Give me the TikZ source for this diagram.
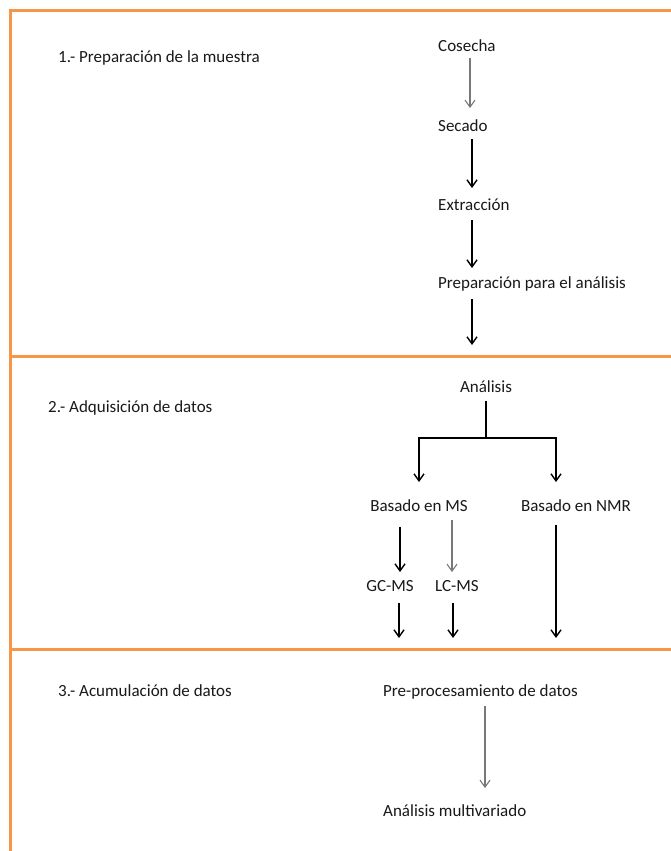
\documentclass[tikz,border=0pt]{standalone}
\usepackage{fontspec}
\setmainfont{Carlito}
\usetikzlibrary{arrows.meta,calc}
\definecolor{frameorange}{RGB}{247,150,70}
\definecolor{softgray}{RGB}{120,120,120}
\tikzset{
  frameline/.style={draw=frameorange,line width=3pt},
  lbl/.style={font=\fontsize{17}{19}\selectfont,inner sep=2pt,
              text height=12pt,text depth=3.5pt,text=black!90},
  leftlbl/.style={lbl,anchor=west},
  arr/.style={-{Straight Barb[length=7pt,width=10pt]},line width=1.4pt,black},
  garr/.style={arr,draw=softgray,line width=1.1pt},
}
\begin{document}
\begin{tikzpicture}[x=1pt,y=-1pt]
\useasboundingbox (0,0) rectangle (671,851);
\fill[white] (0,0) rectangle (671,851);

% frame and section separators
\coordinate (tl) at (10,11);
\coordinate (bl) at (10,851);
\draw[frameline] (671,11) -- (tl) -- (bl);
\draw[frameline] (10,356) -- (671,356);
\draw[frameline] (10,649) -- (671,649);

% section titles
\node[leftlbl] (t1) at (56,58) {1.- Preparación de la muestra};
\node[leftlbl] (t2) at (46,408) {2.- Adquisición de datos};
\node[leftlbl] (t3) at (56,692) {3.- Acumulación de datos};

% section 1: sample preparation
\node[leftlbl] (cos) at (436,47) {Cosecha};
\node[leftlbl] (sec) at (436,127) {Secado};
\node[leftlbl] (ext) at (436,206) {Extracción};
\node[leftlbl] (prep) at (436,284) {Preparación para el análisis};
\coordinate (colA) at (470,0);
\coordinate (colB) at (472,0);
\coordinate (c1) at (472,345);

\draw[garr,shorten <=1pt,shorten >=9pt] (cos.south -| colA) -- (sec.north -| colA);
\draw[arr,shorten <=2pt,shorten >=8pt] (sec.south -| colB) -- (ext.north -| colB);
\draw[arr,shorten <=4pt,shorten >=6pt] (ext.south -| colB) -- (prep.north -| colB);
\draw[arr,shorten <=5pt] (prep.south -| colB) -- (c1);

% section 2: data acquisition
\node[lbl] (ana) at (486,388) {Análisis};
\node[lbl] (ms) at (419,507) {Basado en MS};
\node[lbl] (nmr) at (576,507) {Basado en NMR};
\node[lbl] (gc) at (390,587) {GC-MS};
\node[lbl] (lc) at (457,587) {LC-MS};
\coordinate (split) at (486,438);
\coordinate (msline) at (419,0);
\coordinate (nmrline) at (556,0);
\coordinate (gcline) at (400,0);
\coordinate (lcline) at (452,0);
\coordinate (gcend) at (399,638);
\coordinate (lcend) at (453,638);
\coordinate (nmrend) at (556,638);

\draw[line width=1.4pt,shorten <=3pt] (ana.south) -- (split);
\draw[arr] (split) -| ([yshift=15pt]ms.north -| msline);
\draw[arr] (split) -| ([yshift=15pt]nmr.north -| nmrline);
\draw[arr,shorten <=10pt,shorten >=5pt] (ms.south -| gcline) -- (gc.north -| gcline);
\draw[garr,shorten <=3pt,shorten >=5pt] (ms.south -| lcline) -- (lc.north -| lcline);
\draw[arr,shorten <=6pt] (gc.south -| gcend) -- (gcend);
\draw[arr,shorten <=6pt] (lc.south -| lcend) -- (lcend);
\draw[arr,shorten <=8pt] (nmr.south -| nmrend) -- (nmrend);

% section 3: data accumulation
\node[leftlbl] (pre) at (381,692) {Pre-procesamiento de datos};
\node[leftlbl] (mult) at (381,812) {Análisis multivariado};
\coordinate (preline) at (485,0);
\draw[garr,shorten <=4pt,shorten >=14pt] (pre.south -| preline) -- (mult.north -| preline);
\end{tikzpicture}
\end{document}
